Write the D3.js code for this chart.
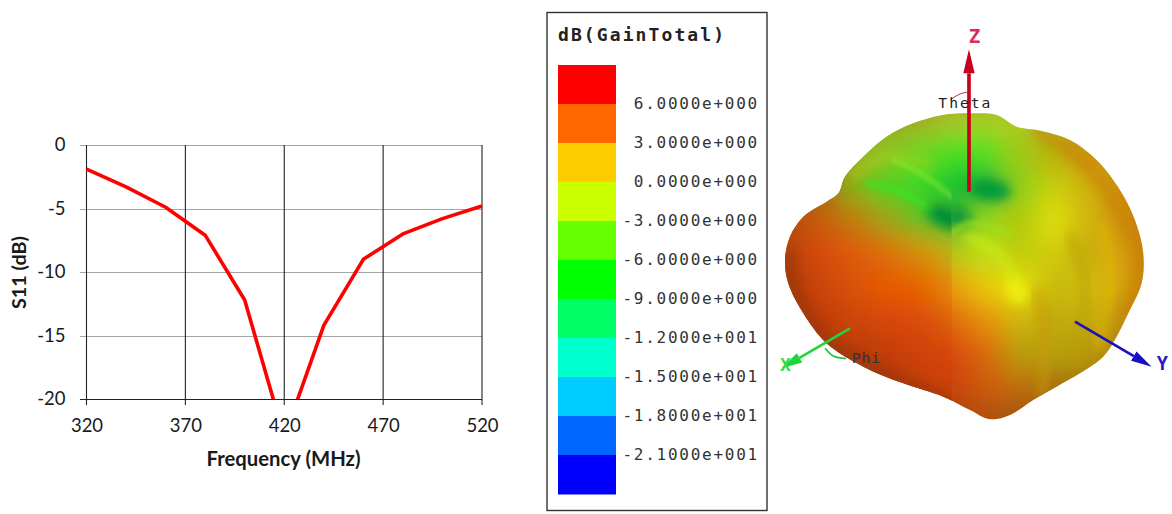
<!DOCTYPE html>
<html><head><meta charset="utf-8">
<script src="https://cdn.jsdelivr.net/npm/d3@7/dist/d3.min.js"></script>
<style>html,body{margin:0;padding:0;background:#fff;overflow:hidden}svg{display:block}</style>
</head><body><svg id="c" width="1172" height="514"></svg>
<script>
const frequency = [320,340,360,380,400,420,440,460,480,500,520];
const s11 = [-1.9,-3.3,-4.9,-7.1,-12.2,-23,-14.2,-9,-7,-5.8,-4.8];
const xTicks = [320,370,420,470,520];
const yTicks = [0,-5,-10,-15,-20];
const legendColors = ["#ff0000","#ff6600","#ffcc00","#ccff00","#66ff00","#00ff00","#00ff66","#00ffcc","#00ccff","#0066ff","#0000ff"];
const legendLabels = ["6.0000e+000","3.0000e+000","0.0000e+000","-3.0000e+000","-6.0000e+000","-9.0000e+000","-1.2000e+001","-1.5000e+001","-1.8000e+001","-2.1000e+001"];
/* surface colours of the 3D pattern: rows top to bottom, columns left to right */
const surfaceRows = [
 ["#a06818","#a06818","#a06818","#a0a020","#a0b020","#a8c828","#a8d020","#b0cc20","#b0a818","#c89020","#c89020","#c07810"],
 ["#a06818","#a06818","#a0b020","#88c820","#70d820","#40e020","#50e020","#a0c818","#b8b010","#cc9010","#cc9010","#c07810"],
 ["#b05010","#a06818","#88b018","#50d020","#30d828","#10c030","#10b038","#88d018","#c8d010","#d0b010","#cc8a10","#c07810"],
 ["#b84a10","#c85c10","#c07a10","#a0a018","#60c020","#30b030","#90d818","#b0c810","#e0e010","#d0b810","#d09010","#c07810"],
 ["#b84010","#d85008","#e06008","#e07808","#d89c10","#b8c818","#c0e018","#c0cc10","#d0cc10","#c8b010","#d8a010","#c07810"],
 ["#a83c10","#c84a08","#dc5808","#ec6206","#ec6c06","#e89c0c","#e8c80c","#e8e010","#c8b810","#d0c010","#d8a810","#c07810"],
 ["#a83c10","#b83c0c","#cc4a08","#d84c08","#dc5008","#e06a08","#e8900c","#d0b810","#c0a810","#c8b010","#c09010","#b07010"],
 ["#a83c10","#a83c10","#b03c0c","#c04008","#d04408","#d84a08","#d86808","#b89c10","#b8a010","#b89a10","#b08010","#b07010"],
 ["#a83c10","#a83c10","#a83c10","#a83c10","#c04008","#cc4408","#cc5a08","#c07010","#a87010","#a87010","#a87010","#a87010"],
 ["#a83c10","#a83c10","#a83c10","#a83c10","#a83c10","#a84010","#b05010","#a05010","#a05010","#a05010","#a05010","#a05010"]
];

const svg = d3.select("#c");
const defs = svg.append("defs");
const F = "Lato, 'Open Sans', sans-serif";

/* ---------- S11 line chart ---------- */
const x = d3.scaleLinear().domain([320,520]).range([86.5,482]);
const y = d3.scaleLinear().domain([0,-20]).range([145,399]);
const g = svg.append("g");
defs.append("clipPath").attr("id","plot").append("rect").attr("x",70).attr("y",145).attr("width",430).attr("height",254);

g.append("g").selectAll("line").data(yTicks).join("line")
  .attr("x1",80).attr("x2",482).attr("y1",d=>Math.round(y(d))+.5).attr("y2",d=>Math.round(y(d))+.5)
  .attr("stroke",d=>d===-20?"#222":"#a6a6a6").attr("stroke-width",1.2);
g.append("g").selectAll("line").data(xTicks).join("line")
  .attr("x1",d=>x(d)).attr("x2",d=>x(d)).attr("y1",145).attr("y2",405)
  .attr("stroke","#222").attr("stroke-width",1.1);

const xAxis = g.append("g").attr("transform","translate(0,399)").call(d3.axisBottom(x).tickValues(xTicks).tickSize(0).tickPadding(20).tickFormat(d3.format("d")));
const yAxis = g.append("g").attr("transform","translate(86.5,0)").call(d3.axisLeft(y).tickValues(yTicks).tickSize(0).tickPadding(21).tickFormat(d=>d3.format("d")(d).replace("−","-")));
[xAxis,yAxis].forEach(a=>{a.select(".domain").remove();a.selectAll("text").attr("font-family",F).attr("font-size",18.5).attr("fill","#1a1a1a");});

g.append("path").datum(frequency.map((f,i)=>[f,s11[i]]))
  .attr("clip-path","url(#plot)")
  .attr("d",d3.line().x(d=>x(d[0])).y(d=>y(d[1])))
  .attr("fill","none").attr("stroke","#ff0000").attr("stroke-width",3.6).attr("stroke-linejoin","round");

g.append("text").attr("x",283.5).attr("y",466).attr("text-anchor","middle").attr("font-family",F).attr("font-weight",700).attr("font-size",20.3).attr("fill","#1a1a1a").text("Frequency (MHz)");
g.append("text").attr("transform","translate(26,272.5) rotate(-90)").attr("text-anchor","middle").attr("font-family",F).attr("font-weight",700).attr("font-size",19.8).attr("fill","#1a1a1a").text("S11 (dB)");

/* ---------- colour legend ---------- */
const lg = svg.append("g");
lg.append("rect").attr("x",547).attr("y",12.5).attr("width",220).attr("height",498).attr("fill","#fff").attr("stroke","#333").attr("stroke-width",1.4);
const band = d3.scaleBand().domain(d3.range(legendColors.length)).range([65,494]);
lg.selectAll("rect.b").data(legendColors).join("rect").attr("class","b")
  .attr("x",558).attr("width",58).attr("y",(d,i)=>band(i)).attr("height",band.bandwidth()+.5).attr("fill",d=>d);
lg.append("text").attr("x",558).attr("y",41).attr("font-family","'DejaVu Sans Mono',monospace").attr("font-weight",700).attr("font-size",18).attr("letter-spacing",2.1).attr("fill","#222").text("dB(GainTotal)");
lg.selectAll("text.l").data(legendLabels).join("text").attr("class","l")
  .attr("x",759).attr("y",(d,i)=>band(i+1)+5).attr("text-anchor","end")
  .attr("font-family","'DejaVu Sans Mono',monospace").attr("font-size",16).attr("letter-spacing",1.75).attr("fill","#333").text(d=>d);

/* ---------- 3D radiation pattern (illustration) ---------- */
const P = svg.append("g").attr("transform","translate(770,20) scale(0.3333)");
const silhouette = [[600,280],[680,285],[740,320],[800,330],[900,360],[980,420],[1050,510],[1095,600],[1120,700],[1115,790],[1075,880],[1040,950],[1000,1010],[930,1060],[860,1100],[790,1140],[720,1185],[660,1198],[600,1170],[520,1130],[400,1090],[280,1040],[170,970],[100,880],[55,790],[45,720],[60,650],[100,590],[170,545],[205,520],[225,470],[280,410],[350,350],[430,310],[520,285]];
const closed = d3.line().curve(d3.curveCatmullRomClosed.alpha(.5));
const open = d3.line().curve(d3.curveCatmullRom.alpha(.5));
defs.append("clipPath").attr("id","blob").append("path").attr("d",closed(silhouette));
defs.append("clipPath").attr("id","lside").append("rect").attr("x",0).attr("y",0).attr("width",545).attr("height",1300);
[8,16,26,38].forEach(s=>defs.append("filter").attr("id","b"+s).attr("x","-50%").attr("y","-50%").attr("width","200%").attr("height","200%")
  .append("feGaussianBlur").attr("stdDeviation",s));

const B = P.append("g").attr("clip-path","url(#blob)");
const cellX = d3.scaleBand().domain(d3.range(12)).range([0,1200]);
const cellY = d3.scaleBand().domain(d3.range(10)).range([250,1250]);
const mosaic = p => {
  const m = p.append("g").attr("filter","url(#b38)");
  m.append("rect").attr("x",-100).attr("y",100).attr("width",1400).attr("height",1250).attr("fill","#b06a12");
  surfaceRows.forEach((row,r)=>m.selectAll(null).data(row).join("rect")
    .attr("x",(d,c)=>cellX(c)).attr("y",cellY(r)).attr("width",cellX.bandwidth()+1).attr("height",cellY.bandwidth()+1).attr("fill",d=>d));
};
const str=(p,pts,col,w,bl,op=1)=>p.append("path").attr("d",open(pts)).attr("fill","none").attr("stroke",col).attr("stroke-width",w).attr("stroke-linecap","round").attr("opacity",op).attr("filter",`url(#b${bl})`);
const ell=(p,cx,cy,rx,ry,rot,col,bl,op=1)=>p.append("ellipse").attr("cx",cx).attr("cy",cy).attr("rx",rx).attr("ry",ry)
  .attr("transform",`rotate(${rot} ${cx} ${cy})`).attr("fill",col).attr("opacity",op).attr("filter",`url(#b${bl})`);

/* the right half is painted across the whole shape; the left half lies on top of it, so no gap opens at the seam */
const R = B.append("g");
mosaic(R);
ell(R,660,510,62,30,8,"#069a3c",16);
ell(R,560,590,42,28,10,"#0a9a3c",16);
str(R,[[545,640],[600,610],[720,640]],"#a0e020",18,8,.6);
str(R,[[590,650],[670,690],[730,770],[750,840]],"#ccf018",24,16,.8);
ell(R,738,812,28,40,-30,"#f0ec10",16);
str(R,[[800,820],[830,960],[815,1120]],"#c89a10",26,16,.7);
str(R,[[905,650],[945,800],[915,1030]],"#b89c10",22,16,.7);
str(R,[[1000,620],[1020,780],[985,980]],"#e4c010",20,16,.7);
str(R,[[800,335],[930,420],[1040,560],[1105,720],[1070,880]],"#cc7c10",20,16,.8);

const L = B.append("g").attr("clip-path","url(#lside)").append("g");
mosaic(L);
L.append("rect").attr("x",-100).attr("y",680).attr("width",700).attr("height",700).attr("fill","#d03000").attr("opacity",.16).attr("filter","url(#b38)");
str(L,[[250,470],[350,410],[480,440]],"#b4d020",20,16,.6);
str(L,[[290,490],[400,520],[520,600]],"#38e428",18,8,.8);
str(L,[[370,420],[460,465],[545,530]],"#8cf030",12,8,.7);
ell(L,530,592,62,28,20,"#068a38",16);
str(L,[[60,700],[70,800],[170,960],[400,1085],[540,1140]],"#8a3410",24,16,.7);

/* axes of the 3D view */
const arrow=(col,from,to,w,hw,hl)=>{
  const dx=to[0]-from[0],dy=to[1]-from[1],n=Math.hypot(dx,dy),ux=dx/n,uy=dy/n;
  const b=[to[0]-ux*hl,to[1]-uy*hl];
  P.append("line").attr("x1",from[0]).attr("y1",from[1]).attr("x2",b[0]).attr("y2",b[1]).attr("stroke",col).attr("stroke-width",w);
  P.append("path").attr("fill",col).attr("d",d3.line()([to,[b[0]-uy*hw,b[1]+ux*hw],[b[0]+uy*hw,b[1]-ux*hw]])+"Z");
};
arrow("#c8001e",[597,515],[597,88],11,17,72);
arrow("#1a10c0",[915,905],[1145,1040],8,16,62);
arrow("#22d43c",[240,925],[35,1045],8,16,62);
P.append("path").attr("d",open([[540,240],[570,222],[600,215]])).attr("fill","none").attr("stroke","#b02030").attr("stroke-width",3);
P.append("path").attr("d",open([[165,985],[190,1008],[228,1016]])).attr("fill","none").attr("stroke","#22c040").attr("stroke-width",5);
const t=(s,xx,yy,col,fs,ls,w=400)=>P.append("text").attr("x",xx).attr("y",yy).attr("font-family","'DejaVu Sans Mono',monospace").attr("font-size",fs).attr("font-weight",w).attr("letter-spacing",ls).attr("fill",col).text(s);
t("Z",596,70,"#e0285a",58,0,700);
t("Y",1160,1050,"#2a18c8",56,0,700);
t("X",30,1052,"#30dc50",54,0,700);
t("Theta",505,265,"#222",44,6);
t("Phi",245,1030,"#333",44,3);
</script></body></html>
